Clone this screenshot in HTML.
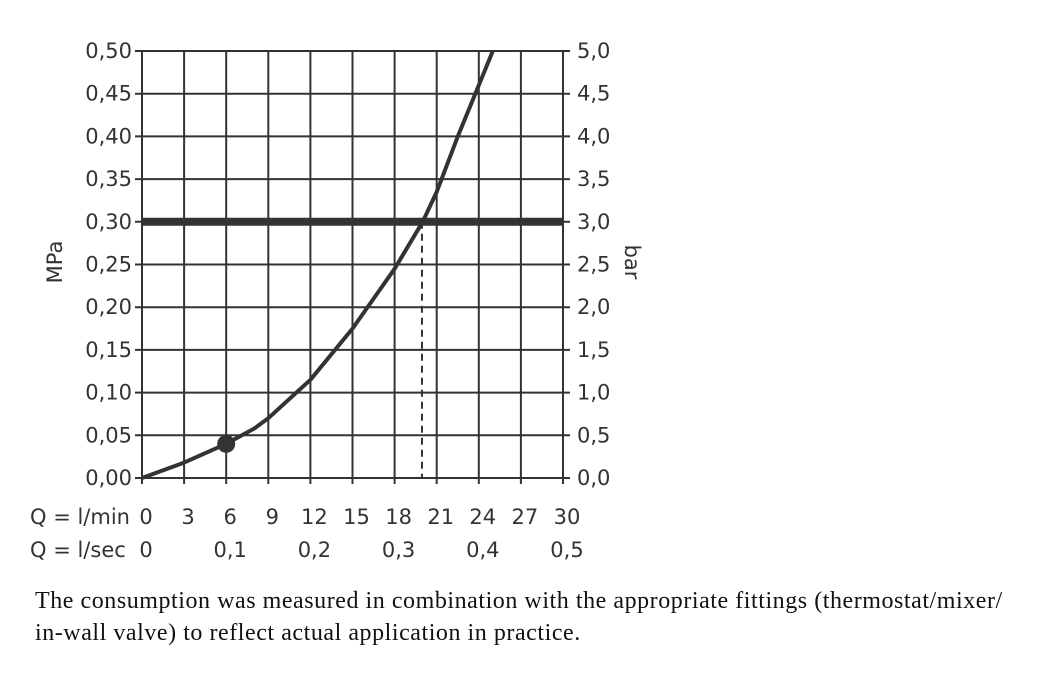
<!DOCTYPE html>
<html><head><meta charset="utf-8"><style>
body{margin:0;background:#fff;}
svg text{font-family:"DejaVu Sans","Liberation Sans",sans-serif;fill:#333;}
.cap{position:absolute;left:35px;top:585px;font-family:"Liberation Serif",serif;font-size:24px;letter-spacing:0.55px;line-height:32px;color:#111;white-space:nowrap;}
</style></head><body>
<svg id="chart" width="1059" height="580" style="position:absolute;left:0;top:0">
<g id="grid"></g><g id="marks"></g><g id="labels"></g>
</svg>
<div class="cap">The consumption was measured in combination with the appropriate fittings (thermostat/mixer/<br>in-wall valve) to reflect actual application in practice.</div>
<script>
const xTicks=[0,3,6,9,12,15,18,21,24,27,30];
const secTicks=["0","0,1","0,2","0,3","0,4","0,5"];
const yTicksMPa=["0,00","0,05","0,10","0,15","0,20","0,25","0,30","0,35","0,40","0,45","0,50"];
const yTicksBar=["0,0","0,5","1,0","1,5","2,0","2,5","3,0","3,5","4,0","4,5","5,0"];
const curveFlow=[0,3,6,8,9,12,15,18,20,21,22.5,24,25];
const curvePressure=[0,0.018,0.04,0.058,0.07,0.115,0.175,0.245,0.30,0.335,0.40,0.46,0.50];
const refPressure=0.30;
const refFlow=19.95;
const pointFlow=6, pointPressure=0.04;
const X0=142,X1=563,Y0=478,Y1=51;
const sx=v=>X0+(X1-X0)*v/30;
const sy=v=>Y0-(Y0-Y1)*v/0.5;
const NS="http://www.w3.org/2000/svg";
function mk(parent,tag,attrs){const e=document.createElementNS(NS,tag);for(const k in attrs)e.setAttribute(k,attrs[k]);document.getElementById(parent).appendChild(e);return e;}
xTicks.forEach(v=>{const e=mk('grid','line',{x1:sx(v),x2:sx(v),y1:Y1,y2:Y0+6,stroke:'#333','stroke-width':2});


const t=mk('labels','text',{x:sx(v)+4,y:524,'font-size':21,'text-anchor':'middle'});t.textContent=v;

});
secTicks.forEach((s,i)=>{const t=mk('labels','text',{x:sx(i*6)+4,y:557,'font-size':21,'text-anchor':'middle'});t.textContent=s;

});
yTicksMPa.forEach((s,i)=>{const v=i*0.05;const e=mk('grid','line',{x1:X0-7,x2:X1+7,y1:sy(v),y2:sy(v),stroke:'#333','stroke-width':2});


const t=mk('labels','text',{x:X0-10,y:sy(v)+7,'font-size':21,'text-anchor':'end'});t.textContent=s;


const t2=mk('labels','text',{x:X1+14,y:sy(v)+7,'font-size':21});t2.textContent=yTicksBar[i];

});
const ref=mk('marks','line',{x1:X0,x2:X1,y1:sy(refPressure),y2:sy(refPressure),stroke:'#333','stroke-width':8});


const dl=mk('marks','line',{x1:sx(refFlow),x2:sx(refFlow),y1:sy(refPressure),y2:Y0,stroke:'#333','stroke-width':2,'stroke-dasharray':'7,5'});


let d='';curveFlow.forEach((f,i)=>{d+=(i?'L':'M')+sx(f).toFixed(1)+','+sy(curvePressure[i]).toFixed(1);});
const c=mk('marks','path',{d:d,fill:'none',stroke:'#333','stroke-width':4,'stroke-linejoin':'round'});


const p=mk('marks','circle',{cx:sx(pointFlow),cy:sy(pointPressure),r:9,fill:'#333'});


const q1=mk('labels','text',{x:30,y:524,'font-size':21});q1.textContent='Q = l/min';


const q2=mk('labels','text',{x:30,y:557,'font-size':21});q2.textContent='Q = l/sec';


const ya=mk('labels','text',{x:0,y:0,'font-size':21,'text-anchor':'middle',transform:'translate(62,262) rotate(-90)'});ya.textContent='MPa';


const yb=mk('labels','text',{x:0,y:0,'font-size':21,'text-anchor':'middle',transform:'translate(625,262) rotate(90)'});yb.textContent='bar';


</script>
</body></html>
